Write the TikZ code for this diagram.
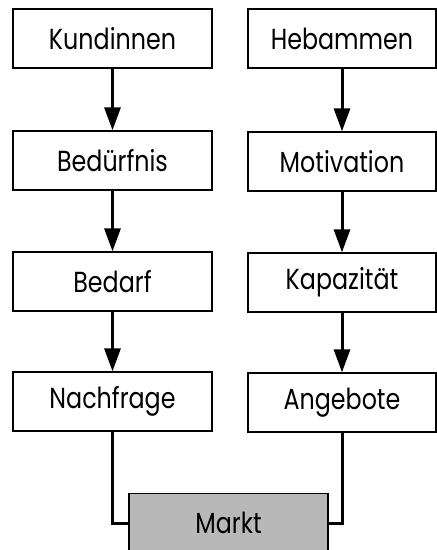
\documentclass[tikz,border=0pt]{standalone}
\usepackage{fontspec}
\setmainfont{Poppins}[FakeStretch=0.82]
\usetikzlibrary{arrows.meta}

\begin{document}
\begin{tikzpicture}[x=1pt, y=-1pt]
		\tikzstyle{Left} = [rectangle, minimum width=199pt, minimum height=59pt, text centered, draw=black, line width=1.3pt, font=\fontsize{29}{31}\selectfont]
		\tikzstyle{Right} = [Left, minimum width=188pt]
		\tikzstyle{Market} = [Left, fill=black!28]
		\tikzstyle{arrow} = [line width=3pt, -{Triangle[width=16pt,length=23pt]}]
		\tikzstyle{link} = [line width=3pt]
		
		\useasboundingbox (0,0) rectangle (437,550);
		
		% Nachfrage
		\node (kund) [Left] at (112.5,38.5) {Kundinnen};
		\node (bed) [Left] at (112.5,160.5) {Bedürfnis};
		\node (bedarf) [Left] at (112.5,281.5) {Bedarf};
		\node (nach) [Left] at (112.5,401.5) {Nachfrage};
		
		\draw [arrow] (kund) -- (bed);
		\draw [arrow] (bed) -- (bedarf);
		\draw [arrow] (bedarf) -- (nach);
		
		% Angebot
		\node (heb) [Right] at (342,38.5) {Hebammen};
		\node (mot) [Right] at (342,161.5) {Motivation};
		\node (kap) [Right] at (342,282.5) {Kapazität};
		\node (ang) [Right] at (342,402.5) {Angebote};
		
		\draw [arrow] (heb) -- (mot);
		\draw [arrow] (mot) -- (kap);
		\draw [arrow] (kap) -- (ang);
		
		% Markt
		\node (markt) [Market] at (228.5,523) {Markt};
		\draw [link] (nach) |- (markt);
		\draw [link] (ang) |- (markt);
\end{tikzpicture}
\end{document}
